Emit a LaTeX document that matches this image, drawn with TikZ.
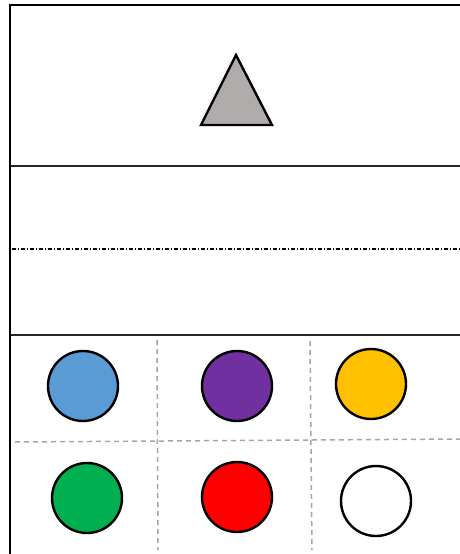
\documentclass[tikz,border=0pt]{standalone}
\usepackage{xcolor}
\usetikzlibrary{positioning}

\definecolor{tokgray}{HTML}{AFACAB}
\definecolor{tokblue}{HTML}{5B9BD5}
\definecolor{tokpurple}{HTML}{7030A0}
\definecolor{tokyellow}{HTML}{FFC000}
\definecolor{tokgreen}{HTML}{00B050}
\definecolor{tokred}{HTML}{FF0000}
\definecolor{gridgray}{HTML}{A6A6A6}

\begin{document}
\begin{tikzpicture}[
  x=1pt, y=-1pt,
  frame/.style={line width=2.5pt},
  sep/.style={line width=1.5pt, black!85},
  dashdot/.style={line width=1.3pt, dash pattern=on 4pt off 2pt on 1pt off 2pt},
  grid/.style={line width=1.5pt, gridgray, dash pattern=on 5pt off 4pt},
  tok/.style={circle, draw, line width=2.4pt, minimum size=70pt, inner sep=0pt}
]
\useasboundingbox (0,0) rectangle (460,554);

% frame
\draw[frame] (460,5) -- (10,5) -- (10,554);

% top area
\coordinate (apex) at (236,55);
\coordinate (bl) at (201,125);
\coordinate (br) at (272,125);
\draw[line width=2.4pt, fill=tokgray, line join=miter] (apex) -- (br) -- (bl) -- cycle;

\draw[sep] (11,166) -- (460,166);
\draw[dashdot] (12,249) -- (460,249);
\draw[sep] (11,335) -- (460,335);

% grid
\draw[grid] (157,340) -- (158,550);
\draw[grid] (310,341) -- (312,550);
\draw[grid] (15,442) -- (460,439);

% tokens
\node[tok, fill=tokblue]   (t1) at (83,386)  {};
\node[tok, fill=tokpurple] (t2) at (237,386) {};
\node[tok, fill=tokyellow] (t3) at (371,384) {};
\node[tok, fill=tokgreen]  (t4) at (87,498)  {};
\node[tok, fill=tokred]    (t5) at (237,497) {};
\node[tok, fill=white]     (t6) at (376,501) {};
\end{tikzpicture}
\end{document}
